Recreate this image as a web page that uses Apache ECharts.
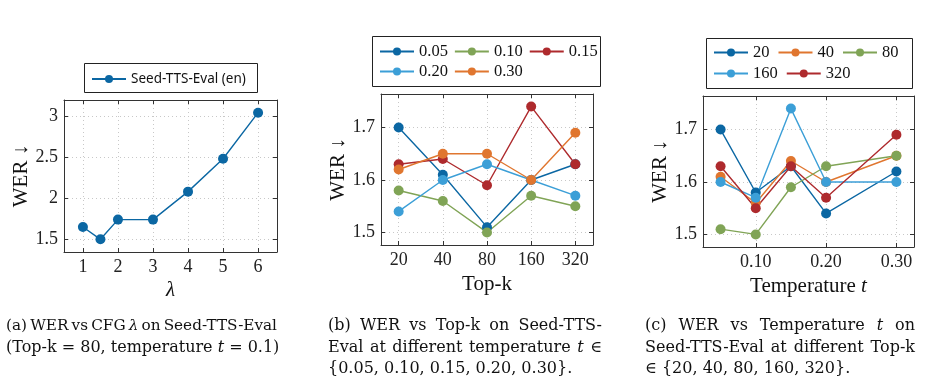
<!DOCTYPE html>
<html lang="en">
<head>
  <meta charset="UTF-8">
  <title>WER vs CFG / Top-k / Temperature</title>
  <style>
    * { margin: 0; padding: 0; }
    html, body { width: 925px; height: 386px; background: #fff; overflow: hidden; }
    #chart { width: 925px; height: 386px; }
  </style>
</head>
<body>
  <div id="chart"></div>
  <script src="https://cdn.jsdelivr.net/npm/echarts@6/dist/echarts.min.js"></script>
  <script>
    // --- data ---
    const lambdaX = [1, 1.5, 2, 3, 4, 5, 6];
    const werCfg = [1.65, 1.50, 1.74, 1.74, 2.08, 2.48, 3.04];

    const topKLabels = ['20', '40', '80', '160', '320'];
    const tempNames = ['0.05', '0.10', '0.15', '0.20', '0.30'];
    const temps = [0.05, 0.10, 0.15, 0.20, 0.30];

    // (b) one line per temperature, over top-k
    const werT005 = [1.70, 1.61, 1.51, 1.60, 1.63];
    const werT010 = [1.58, 1.56, 1.50, 1.57, 1.55];
    const werT015 = [1.63, 1.64, 1.59, 1.74, 1.63];
    const werT020 = [1.54, 1.60, 1.63, 1.60, 1.57];
    const werT030 = [1.62, 1.65, 1.65, 1.60, 1.69];

    // (c) one line per top-k, over temperature
    const werK20 = [1.70, 1.58, 1.63, 1.54, 1.62];
    const werK40 = [1.61, 1.56, 1.64, 1.60, 1.65];
    const werK80 = [1.51, 1.50, 1.59, 1.63, 1.65];
    const werK160 = [1.60, 1.57, 1.74, 1.60, 1.60];
    const werK320 = [1.63, 1.55, 1.63, 1.57, 1.69];

    const ticksA_x = [1, 2, 3, 4, 5, 6];
    const ticksA_y = [1.5, 2, 2.5, 3];
    const ticksB_x = [0, 1, 2, 3, 4];
    const ticksBC_y = [1.5, 1.6, 1.7];
    const ticksC_x = [0.1, 0.2, 0.3];

    const C = {
      dblue: '#0b67a3', green: '#80a456', red: '#ae2a2d',
      lblue: '#3c9fd7', orange: '#e0762f'
    };
    const serif = '"Liberation Serif", "DejaVu Serif", serif';
    const axisCol = '#333';
    const tickFont = 18;

    const chart = echarts.init(document.getElementById('chart'), null, { renderer: 'canvas' });

    function pairs(xs, ys) { return xs.map((x, i) => [x, ys[i]]); }

    function xAxisPair(grid, min, max, ticks, fmt, name, nameGap, rich) {
      const gridLine = { show: true, lineStyle: { color: '#c8c8c8', type: [1, 3], width: 1 } };
      return [{
        type: 'value', gridIndex: grid, position: 'bottom', min, max,
        axisLine: { show: true, onZero: false, lineStyle: { color: axisCol, width: 1 } },
        axisTick: { show: true, inside: true, length: 4, customValues: ticks, lineStyle: { color: axisCol } },
        axisLabel: { customValues: ticks, formatter: fmt, margin: 6, color: '#222', fontFamily: serif, fontSize: tickFont },
        splitLine: gridLine,
        name, nameLocation: 'middle', nameGap,
        nameTextStyle: { color: '#111', fontFamily: serif, fontSize: 21, rich }
      }, {
        type: 'value', gridIndex: grid, position: 'top', min, max,
        axisLine: { show: true, onZero: false, lineStyle: { color: axisCol, width: 1 } },
        axisTick: { show: true, inside: true, length: 4, customValues: ticks, lineStyle: { color: axisCol } },
        axisLabel: { show: false, customValues: ticks },
        splitLine: { show: false }
      }];
    }

    function yAxisPair(grid, min, max, ticks, fmt, nameGap) {
      const gridLine = { show: true, lineStyle: { color: '#c8c8c8', type: [1, 3], width: 1 } };
      return [{
        type: 'value', gridIndex: grid, position: 'left', min, max,
        axisLine: { show: true, onZero: false, lineStyle: { color: axisCol, width: 1 } },
        axisTick: { show: true, inside: true, length: 4, customValues: ticks, lineStyle: { color: axisCol } },
        axisLabel: { customValues: ticks, formatter: fmt, margin: 6, color: '#222', fontFamily: serif, fontSize: tickFont },
        splitLine: gridLine,
        name: 'WER ↓', nameLocation: 'middle', nameGap,
        nameTextStyle: { color: '#111', fontFamily: serif, fontSize: 21 }
      }, {
        type: 'value', gridIndex: grid, position: 'right', min, max,
        axisLine: { show: true, onZero: false, lineStyle: { color: axisCol, width: 1 } },
        axisTick: { show: true, inside: true, length: 4, customValues: ticks, lineStyle: { color: axisCol } },
        axisLabel: { show: false, customValues: ticks },
        splitLine: { show: false }
      }];
    }

    function line(name, color, data, xi, yi) {
      return {
        type: 'line', name, data, xAxisIndex: xi, yAxisIndex: yi,
        symbol: 'circle', symbolSize: 10, showSymbol: true,
        lineStyle: { color, width: 1.4 }, itemStyle: { color },
        animation: false
      };
    }

    const xAxes = [].concat(
      xAxisPair(0, 0.46, 6.54, ticksA_x, v => String(v), 'λ', 28, {}),
      xAxisPair(1, -0.4, 4.4, ticksB_x, v => topKLabels[Math.round(v)], 'Top-k', 29, {}),
      xAxisPair(2, 0.025, 0.325, ticksC_x, v => v.toFixed(2), 'Temperature {i|t}', 29,
        { i: { fontStyle: 'italic', fontFamily: serif, fontSize: 21, color: '#111' } })
    );
    xAxes[0].nameTextStyle.fontStyle = 'italic';

    const yAxes = [].concat(
      yAxisPair(0, 1.346, 3.194, ticksA_y, v => String(v), 28),
      yAxisPair(1, 1.476, 1.764, ticksBC_y, v => v.toFixed(1), 32),
      yAxisPair(2, 1.476, 1.764, ticksBC_y, v => v.toFixed(1), 32)
    );

    const series = [
      line('Seed-TTS-Eval (en)', C.dblue, pairs(lambdaX, werCfg), 0, 0),

      line('0.05', C.dblue, pairs(ticksB_x, werT005), 2, 2),
      line('0.10', C.green, pairs(ticksB_x, werT010), 2, 2),
      line('0.15', C.red, pairs(ticksB_x, werT015), 2, 2),
      line('0.20', C.lblue, pairs(ticksB_x, werT020), 2, 2),
      line('0.30', C.orange, pairs(ticksB_x, werT030), 2, 2),

      line('20', C.dblue, pairs(temps, werK20), 4, 4),
      line('40', C.orange, pairs(temps, werK40), 4, 4),
      line('80', C.green, pairs(temps, werK80), 4, 4),
      line('160', C.lblue, pairs(temps, werK160), 4, 4),
      line('320', C.red, pairs(temps, werK320), 4, 4)
    ];

    function legend(names, left, top, gap) {
      return {
        data: names, left, top, orient: 'horizontal', padding: 0,
        itemWidth: 34, itemHeight: 10, itemGap: gap,
        selectedMode: false,
        textStyle: { fontFamily: serif, fontSize: 16.5, color: '#111' }
      };
    }

    const legends = [
      Object.assign(legend(['Seed-TTS-Eval (en)'], 91, 72, 6),
        { textStyle: { fontFamily: '"Noto Sans", sans-serif', fontSize: 13.5, color: '#111' } }),
      legend(['0.05', '0.10', '0.15'], 379, 43, 6),
      legend(['0.20', '0.30'], 379, 63, 6),
      legend(['20', '40', '80'], 713, 44, 8),
      legend(['160', '320'], 713, 65, 8)
    ];

    // caption text, justified like the LaTeX source
    const measureCtx = document.createElement('canvas').getContext('2d');
    const capFamily = '"DejaVu Serif", serif';
    function fontOf(italic, size) {
      return (italic ? 'italic ' : '') + size + 'px "DejaVu Serif"';
    }
    function captionLine(text, x0, x1, y) {
      let size = 16;
      const words = text.split(' ').map(w => {
        const it = w.startsWith('*') && w.endsWith('*');
        return { t: it ? w.slice(1, -1) : w, it };
      });
      let gap;
      // shrink the font a little if the line would not fit with normal-ish spaces
      for (;;) {
        words.forEach(w => { measureCtx.font = fontOf(w.it, size); w.w = measureCtx.measureText(w.t).width; });
        const total = words.reduce((s, w) => s + w.w, 0);
        measureCtx.font = fontOf(false, size);
        const space = measureCtx.measureText(' ').width;
        gap = x1 == null ? space : (x1 - x0 - total) / (words.length - 1);
        if (x1 == null || gap >= space * 0.6 || size < 13) break;
        size -= 0.25;
      }
      let x = x0;
      return words.map(w => {
        const el = {
          type: 'text', x, y,
          style: {
            text: w.t, fill: '#111', fontSize: size, fontFamily: capFamily,
            fontStyle: w.it ? 'italic' : 'normal', verticalAlign: 'middle'
          }
        };
        x += w.w + gap;
        return el;
      });
    }

    const y1 = 326, y2 = 348, y3 = 369;
    const captions = [].concat(
      captionLine('(a) WER vs CFG *λ* on Seed-TTS-Eval', 6, 277, y1),
      captionLine('(Top-k = 80, temperature *t* = 0.1)', 6, null, y2),
      captionLine('(b) WER vs Top-k on Seed-TTS-', 328, 602, y1),
      captionLine('Eval at different temperature *t* ∈', 328, 602, y2),
      captionLine('{0.05, 0.10, 0.15, 0.20, 0.30}.', 328, null, y3),
      captionLine('(c) WER vs Temperature *t* on', 645, 915, y1),
      captionLine('Seed-TTS-Eval at different Top-k', 645, 915, y2),
      captionLine('∈ {20, 40, 80, 160, 320}.', 645, null, y3)
    );

    const boxStyle = { fill: 'none', stroke: '#222', lineWidth: 1 };
    const legendBoxes = [
      { type: 'rect', shape: { x: 84.5, y: 63.5, width: 173, height: 29 }, style: boxStyle },
      { type: 'rect', shape: { x: 372.5, y: 36.5, width: 228, height: 50 }, style: boxStyle },
      { type: 'rect', shape: { x: 706.5, y: 38.5, width: 206, height: 50 }, style: boxStyle }
    ];

    const option = {
      backgroundColor: '#fff',
      animation: false,
      grid: [
        { left: 64, top: 100, width: 213, height: 152 },
        { left: 381, top: 94, width: 212, height: 151 },
        { left: 703, top: 96, width: 211, height: 151 }
      ],
      xAxis: xAxes,
      yAxis: yAxes,
      legend: legends,
      series: series,
      graphic: legendBoxes.concat(captions)
    };

    chart.setOption(option);
    window.addEventListener('resize', () => chart.resize());
  </script>
</body>
</html>
